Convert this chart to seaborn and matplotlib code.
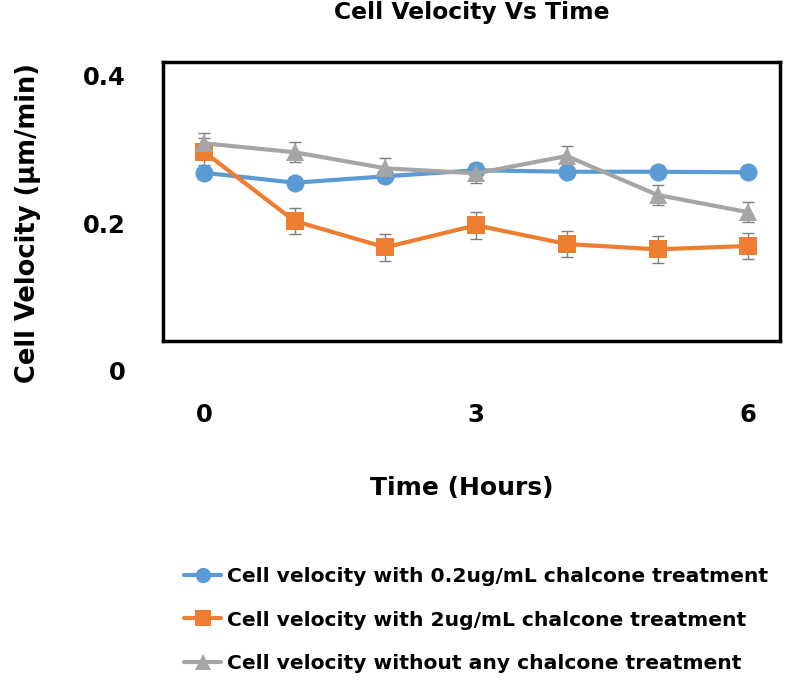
import matplotlib
matplotlib.use("Agg")
import matplotlib.pyplot as plt
import matplotlib.transforms as mtransforms
import seaborn as sns
import pandas as pd
import numpy as np

# ---- data ----
hours = [0, 1, 2, 3, 4, 5, 6]
series_names = [
    "Cell velocity with 0.2ug/mL chalcone treatment",
    "Cell velocity with 2ug/mL chalcone treatment",
    "Cell velocity without any chalcone treatment",
]
vel_low = [0.2716, 0.2580, 0.2667, 0.2749, 0.2729, 0.2729, 0.2721]
vel_high = [0.3001, 0.2061, 0.1704, 0.2003, 0.1749, 0.1677, 0.1722]
vel_none = [0.3115, 0.2993, 0.2776, 0.2708, 0.2942, 0.2414, 0.2180]
err_low = [0.005, 0.005, 0.005, 0.005, 0.005, 0.005, 0.005]
err_high = [0.018, 0.018, 0.018, 0.018, 0.018, 0.018, 0.018]
err_none = [0.0136, 0.0136, 0.0136, 0.0136, 0.0136, 0.0136, 0.0136]
x_tick_values = [0, 3, 6]
x_tick_labels = ["0", "3", "6"]
y_tick_values = [0.0, 0.2, 0.4]
y_tick_labels = ["0", "0.2", "0.4"]

colors = ["#5B9BD5", "#ED7D31", "#A5A5A5"]
markers = ["o", "s", "^"]

sns.set_theme(style="white")
plt.rcParams["font.family"] = ["DejaVu Sans"]
plt.rcParams["font.weight"] = "bold"
plt.rcParams["text.color"] = "black"
plt.rcParams["xtick.color"] = "black"

df = pd.DataFrame({
    "Time": hours * 3,
    "Velocity": vel_low + vel_high + vel_none,
    "Series": [series_names[0]] * 7 + [series_names[1]] * 7 + [series_names[2]] * 7,
})

W, H = 800, 682
fig = plt.figure(figsize=(8, 6.82), dpi=100)
L, R, T, B = 163, 780, 62, 341
ax = fig.add_axes([L / W, 1 - B / H, (R - L) / W, (B - T) / H])

for vals, errs in zip([vel_low, vel_high, vel_none], [err_low, err_high, err_none]):
    ax.errorbar(hours, vals, yerr=errs, fmt="none", ecolor="#7F7F7F",
                elinewidth=1.0, capsize=4, capthick=1.0, zorder=2)

sns.lineplot(data=df, x="Time", y="Velocity", hue="Series", style="Series",
             palette=colors, markers=markers, dashes=False, linewidth=3,
             markersize=13, markeredgewidth=0, ax=ax, zorder=3)

ax.set_xlim(-0.45, 6.35)
ax.set_ylim(0.0434, 0.4217)
ax.set_xticks(x_tick_values)
ax.set_xticklabels(x_tick_labels, fontsize=17.5, fontweight="bold", color="black")
ax.tick_params(axis="x", length=0, pad=45)
ax.set_yticks([])
trans = mtransforms.blended_transform_factory(ax.transAxes, ax.transData)
for v, lab in zip(y_tick_values, y_tick_labels):
    ax.text(-0.06, v, lab, transform=trans, ha="right", va="center",
            fontsize=17.5, fontweight="bold", color="black", clip_on=False)

for s in ax.spines.values():
    s.set_visible(True)
    s.set_color("black")
    s.set_linewidth(2.5)

ax.set_xlabel("")
ax.set_ylabel("")
fig.text(28 / W, 1 - 223 / H, "Cell Velocity (µm/min)", rotation=90,
         ha="center", va="center", fontsize=18.5, fontweight="bold")
fig.text(462 / W, 1 - 488 / H, "Time (Hours)", ha="center", va="center",
         fontsize=18, fontweight="bold")
fig.text(472 / W, 1 - 13 / H, "Cell Velocity Vs Time", ha="center", va="center",
         fontsize=16.8, fontweight="bold")

handles, labels = ax.get_legend_handles_labels()
ax.get_legend().remove()
for h in handles:
    h.set_markersize(11)
leg = fig.legend(handles, labels, loc="upper left", bbox_to_anchor=(184 / W, 1 - 567 / H),
                 frameon=False, fontsize=14.6, handlelength=1.83, handletextpad=0.3,
                 labelspacing=1.21, borderaxespad=0, borderpad=0)
for t in leg.get_texts():
    t.set_fontweight("bold")
    t.set_color("black")

fig.savefig("out.png", dpi=100, facecolor="white")
